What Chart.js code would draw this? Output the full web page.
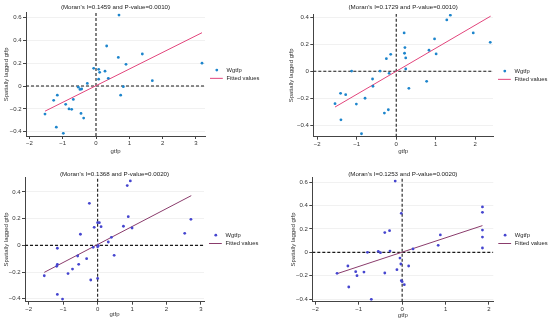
<!DOCTYPE html>
<html>
<head>
<meta charset="utf-8">
<script src="https://cdn.jsdelivr.net/npm/chart.js@4/dist/chart.umd.min.js"></script>
<style>
  body { margin: 0; background: #fff; width: 550px; height: 325px; position: relative; overflow: hidden; }
  canvas { position: absolute; }
</style>
</head>
<body>
<canvas id="c1" width="275" height="160" style="left:0;top:0"></canvas>
<canvas id="c2" width="275" height="160" style="left:275px;top:0"></canvas>
<canvas id="c3" width="275" height="165" style="left:0;top:160px"></canvas>
<canvas id="c4" width="275" height="165" style="left:275px;top:160px"></canvas>
<script>
// ---- data ----
const p1X = [0.69, 0.32, 1.39, 0.67, 3.18, 0.90, -0.07, 0.08, 0.11, 0.27, 0.37, 0.08, 1.69, -0.26, 0.82, 0.74, -0.53, -0.48, -0.43, -1.16, -1.27, -0.68, -0.91, -0.81, -0.73, -0.45, -1.53, -0.37, -1.19, -0.98];
const p1Y = [0.62, 0.35, 0.28, 0.25, 0.20, 0.19, 0.155, 0.146, 0.12, 0.13, 0.067, 0.06, 0.047, 0.023, -0.006, -0.08, -0.01, -0.03, -0.026, -0.08, -0.125, -0.117, -0.16, -0.2, -0.204, -0.24, -0.245, -0.28, -0.36, -0.414];
const p1FitX = [-1.53, 3.18];
const p1FitY = [-0.22, 0.466];
const p1XRange = [-2.1, 3.27];
const p1YRange = [-0.437, 0.641];
const p1XTicks = [-2, -1, 0, 1, 2, 3];
const p1YTicks = [-0.4, -0.2, 0, 0.2, 0.4, 0.6];
const p1Title = "(Moran's I=0.1459 and P-value=0.0010)";

const p2X = [1.37, 1.28, 0.20, 1.95, 0.97, 2.38, 0.22, 0.83, 0.21, -0.14, 1.01, 0.24, -0.25, 0.24, -1.13, -0.41, -0.18, 0.77, -0.60, -0.59, 0.32, -1.41, -1.28, -0.79, -1.55, -1.01, -0.20, -0.30, -1.40, -0.88];
const p2Y = [0.416, 0.381, 0.285, 0.285, 0.24, 0.215, 0.176, 0.156, 0.134, 0.126, 0.129, 0.099, 0.094, 0.017, 0.002, 0.002, -0.015, -0.074, -0.057, -0.111, -0.126, -0.163, -0.173, -0.2, -0.24, -0.243, -0.285, -0.31, -0.36, -0.463];
const p2FitX = [-1.55, 2.39];
const p2FitY = [-0.265, 0.409];
const p2XRange = [-2.1, 2.45];
const p2YRange = [-0.485, 0.425];
const p2XTicks = [-2, -1, 0, 1, 2];
const p2YTicks = [-0.4, -0.2, 0, 0.2, 0.4];
const p2Title = "(Moran's I=0.1729 and P-value=0.0010)";

const p3X = [0.95, 0.86, -0.24, 0.89, 2.71, 0.0, 0.05, 0.75, -0.10, 0.10, 1.0, 2.53, -0.50, 0.40, 0.31, -0.13, 0.0, 0.02, -1.17, 0.48, -0.58, -0.32, -0.55, -1.17, -1.19, -0.73, -0.86, -1.55, -0.20, 0.0, -1.17, -1.02];
const p3Y = [0.483, 0.448, 0.315, 0.215, 0.195, 0.17, 0.17, 0.143, 0.135, 0.14, 0.13, 0.09, 0.083, 0.06, 0.025, -0.015, -0.01, -0.003, -0.022, -0.075, -0.08, -0.10, -0.142, -0.142, -0.157, -0.178, -0.212, -0.228, -0.26, -0.248, -0.368, -0.403];
const p3FitX = [-1.55, 2.72];
const p3FitY = [-0.2025, 0.3725];
const p3XRange = [-2.11, 3.09];
const p3YRange = [-0.4225, 0.51];
const p3XTicks = [-2, -1, 0, 1, 2, 3];
const p3YTicks = [-0.4, -0.2, 0, 0.2, 0.4];
const p3Title = "(Moran's I=0.1368 and P-value=0.0020)";

const p4X = [-0.16, 1.85, 1.85, -0.02, -0.29, -0.40, 1.85, 0.88, 1.85, 0.83, 1.85, 0.25, -0.28, -0.80, -0.55, -0.50, -0.05, -1.25, 0.15, -0.03, -0.12, -1.07, -0.88, -1.50, -0.40, -1.04, -0.02, 0.0, 0.05, -1.23, -0.71];
const p4Y = [0.611, 0.389, 0.343, 0.334, 0.186, 0.169, 0.191, 0.149, 0.131, 0.06, 0.037, 0.029, 0.011, 0.0, 0.009, -0.003, -0.049, -0.117, -0.117, -0.10, -0.149, -0.166, -0.169, -0.18, -0.177, -0.2, -0.243, -0.251, -0.277, -0.297, -0.403];
const p4FitX = [-1.50, 1.85];
const p4FitY = [-0.183, 0.229];
const p4XRange = [-2.07, 2.10];
const p4YRange = [-0.423, 0.643];
const p4XTicks = [-2, -1, 0, 1, 2];
const p4YTicks = [-0.4, -0.2, 0, 0.2, 0.4, 0.6];
const p4Title = "(Moran's I=0.1253 and P-value=0.0020)";

Chart.defaults.font.family = "'Liberation Sans', Arial, sans-serif";
Chart.defaults.font.size = 6;
Chart.defaults.color = "#333";

function fmt(v) {
    return String(v).replace("-", "\u2212");
}

// draws the "(Moran's I=...)" heading and the legend at the right
const panelText = {
    id: "panelText",
    afterDraw(chart, args, opts) {
        const ctx = chart.ctx;
        const a = chart.chartArea;
        ctx.save();
        ctx.fillStyle = "#222";
        ctx.font = "6.2px 'Liberation Sans', Arial, sans-serif";
        ctx.textAlign = "center";
        ctx.textBaseline = "middle";
        ctx.fillText(opts.title, (a.left + a.right) / 2, opts.titleY);

        const cy = (a.top + a.bottom) / 2;
        const ds = chart.data.datasets;
        ctx.fillStyle = ds[0].backgroundColor;
        ctx.beginPath();
        ctx.arc(a.right + 11.8, cy - 4.3, 1.4, 0, Math.PI * 2);
        ctx.fill();
        ctx.strokeStyle = ds[1].borderColor;
        ctx.lineWidth = 1;
        ctx.beginPath();
        ctx.moveTo(a.right + 5, cy + 4);
        ctx.lineTo(a.right + 17.8, cy + 4);
        ctx.stroke();
        ctx.fillStyle = "#222";
        ctx.font = "5.8px 'Liberation Sans', Arial, sans-serif";
        ctx.textAlign = "left";
        ctx.fillText(ds[0].label, a.right + 21.5, cy - 4.3);
        ctx.fillText(ds[1].label, a.right + 21.5, cy + 4);
        ctx.restore();
    },
};

function makePanel(id, d, L) {
    const canvas = document.getElementById(id);
    const W = canvas.width;
    const H = canvas.height;
    const pts = d.xs.map((x, i) => ({ x: x, y: d.ys[i] }));
    const fit = d.fitX.map((x, i) => ({ x: x, y: d.fitY[i] }));

    new Chart(canvas, {
        type: "scatter",
        data: {
            datasets: [
                {
                    label: "Wgtfp",
                    data: pts,
                    backgroundColor: L.dot,
                    borderWidth: 0,
                    pointRadius: 1.4,
                    order: 1,
                },
                {
                    label: "Fitted values",
                    data: fit,
                    showLine: true,
                    borderColor: L.line,
                    borderWidth: 1,
                    pointRadius: 0,
                    order: 2,
                },
                {
                    label: "x0",
                    data: [{ x: 0, y: d.yRange[0] }, { x: 0, y: d.yRange[1] }],
                    showLine: true,
                    borderColor: "#1a1a1a",
                    borderWidth: 1.1,
                    borderDash: [3, 2],
                    pointRadius: 0,
                    order: 3,
                },
                {
                    label: "y0",
                    data: [{ x: d.xRange[0], y: 0 }, { x: d.xRange[1], y: 0 }],
                    showLine: true,
                    borderColor: "#1a1a1a",
                    borderWidth: 1.1,
                    borderDash: [3, 2],
                    pointRadius: 0,
                    order: 3,
                },
            ],
        },
        options: {
            responsive: false,
            animation: false,
            devicePixelRatio: 1,
            layout: { padding: { left: 0, top: L.top, right: W - L.right, bottom: 0 } },
            plugins: {
                legend: { display: false },
                tooltip: { enabled: false },
                panelText: { title: d.title, titleY: L.titleY },
            },
            scales: {
                x: {
                    type: "linear",
                    min: d.xRange[0],
                    max: d.xRange[1],
                    afterFit: (s) => { s.height = H - L.bottom; },
                    afterBuildTicks: (s) => { s.ticks = d.xTicks.map((v) => ({ value: v })); },
                    ticks: { padding: 1, autoSkip: false, maxRotation: 0, callback: (v) => fmt(v) },
                    grid: { drawOnChartArea: false, tickLength: 3, tickColor: "#444" },
                    border: { color: "#444", width: 1 },
                    title: {
                        display: true,
                        text: "gtfp",
                        padding: { top: 0, bottom: H - L.xTitleY - 3.6 },
                    },
                },
                y: {
                    type: "linear",
                    min: d.yRange[0],
                    max: d.yRange[1],
                    afterFit: (s) => { s.width = L.left; },
                    afterBuildTicks: (s) => { s.ticks = d.yTicks.map((v) => ({ value: v })); },
                    ticks: { padding: 1.5, autoSkip: false, callback: (v) => fmt(v) },
                    grid: { color: "#f1f1f1", tickLength: 3, tickColor: "#444" },
                    border: { color: "#444", width: 1 },
                    title: {
                        display: true,
                        text: "Spatially lagged gtfp",
                        padding: { top: L.yTitleX - 3.6, bottom: 0 },
                    },
                },
            },
        },
        plugins: [panelText],
    });
}

makePanel("c1",
    { xs: p1X, ys: p1Y, fitX: p1FitX, fitY: p1FitY, xRange: p1XRange, yRange: p1YRange, xTicks: p1XTicks, yTicks: p1YTicks, title: p1Title },
    { left: 26, top: 12.7, right: 205, bottom: 136, titleY: 7.3, xTitleY: 151, yTitleX: 6.7, dot: "#1d85cc", line: "#e2457c" });
makePanel("c2",
    { xs: p2X, ys: p2Y, fitX: p2FitX, fitY: p2FitY, xRange: p2XRange, yRange: p2YRange, xTicks: p2XTicks, yTicks: p2YTicks, title: p2Title },
    { left: 38.3, top: 14, right: 218, bottom: 136.7, titleY: 7.3, xTitleY: 151.7, yTitleX: 16.7, dot: "#1d85cc", line: "#e2457c" });
makePanel("c3",
    { xs: p3X, ys: p3Y, fitX: p3FitX, fitY: p3FitY, xRange: p3XRange, yRange: p3YRange, xTicks: p3XTicks, yTicks: p3YTicks, title: p3Title },
    { left: 25, top: 17.3, right: 204, bottom: 141.7, titleY: 14, xTitleY: 154, yTitleX: 6, dot: "#4545cf", line: "#8a3c6c" });
makePanel("c4",
    { xs: p4X, ys: p4Y, fitX: p4FitX, fitY: p4FitY, xRange: p4XRange, yRange: p4YRange, xTicks: p4XTicks, yTicks: p4YTicks, title: p4Title },
    { left: 37.3, top: 17.3, right: 218.3, bottom: 141.7, titleY: 14, xTitleY: 155, yTitleX: 18, dot: "#4545cf", line: "#8a3c6c" });
</script>
</body>
</html>
